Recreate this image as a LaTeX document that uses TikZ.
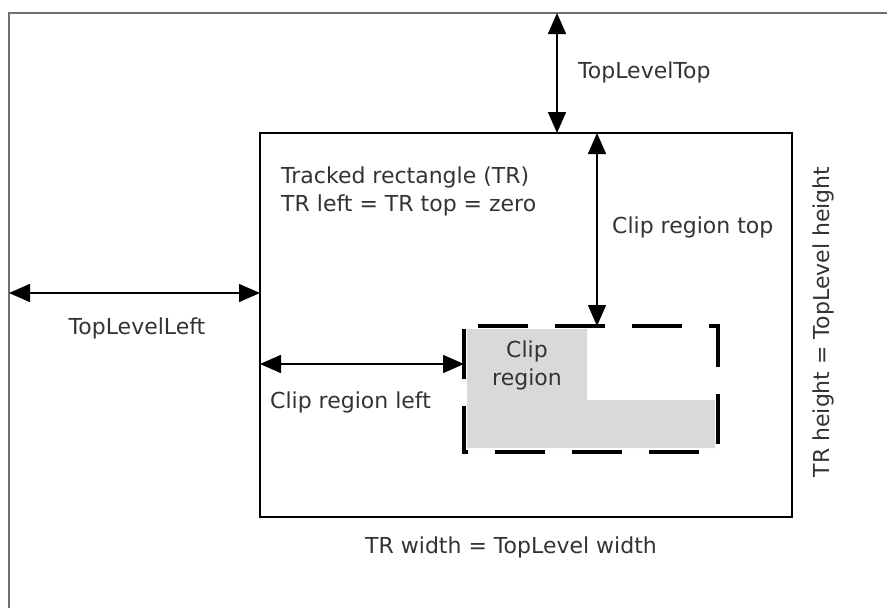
\documentclass[tikz,border=0pt]{standalone}
\usepackage{fontspec}
\setmainfont{DejaVu Sans}
\usetikzlibrary{arrows.meta}
\definecolor{txt}{HTML}{333333}
\definecolor{framegray}{HTML}{707070}
\definecolor{clipfill}{HTML}{D9D9D9}
\begin{document}
\begin{tikzpicture}[x=1pt,y=-1pt,
  dim/.style={{Triangle[length=21pt,width=18pt]}-{Triangle[length=21pt,width=18pt]}, line width=1.6pt},
  lbl/.style={text=txt, font=\fontsize{22}{28}\selectfont, inner sep=0pt},
  box/.style={rectangle, inner sep=0pt, outer sep=0pt},
]
\useasboundingbox (0,0) rectangle (887,608);
\clip (0,0) rectangle (887,608);
% outer top-level frame (extends past the picture)
\node[box, draw=framegray, line width=2pt, minimum width=1000pt, minimum height=700pt] (outer) at (509,363) {};
% tracked rectangle
\node[box, draw=black, line width=2.8pt, minimum width=532pt, minimum height=384pt] (tr) at (526,325) {};
% clip region fill (L-shape)
\fill[clipfill] (467,329) -- (587,329) -- (587,400) -- (715,400) -- (715,448) -- (467,448) -- cycle;
% clip region frame
\node[box, minimum width=254pt, minimum height=126pt] (clip) at (591,389) {};
\draw[black, line width=3.2pt, dash pattern=on 50pt off 27pt, dash phase=63pt]
  (clip.north west) -- (clip.north east) -- (clip.south east) -- (clip.south west) -- cycle;
\node[lbl, align=center] (cliplbl) at (527,365) {Clip\\region};
% helper coordinates
\coordinate (xtlt) at (557,0);
\coordinate (xcrt) at (597,0);
\coordinate (ytll) at (0,293);
\coordinate (ycrl) at (0,364);
% dimension arrows
\draw[dim] (outer.north -| xtlt) -- (tr.north -| xtlt);
\draw[dim] (tr.north -| xcrt) -- (clip.north -| xcrt);
\draw[dim] (outer.west |- ytll) -- (tr.west |- ytll);
\draw[dim] (tr.west |- ycrl) -- (clip.west |- ycrl);
% labels
\node[lbl, anchor=west] (ltlt) at (578,72) {TopLevelTop};
\node[lbl, anchor=west] (lcrt) at (612,227) {Clip region top};
\node[lbl] (ltll) at (137,328) {TopLevelLeft};
\node[lbl, anchor=west] (lcrl) at (270,402) {Clip region left};
\node[lbl, anchor=west] (ltr1) at (281,177) {Tracked rectangle (TR)};
\node[lbl, anchor=west] (ltr2) at (281,205) {TR left = TR top = zero};
\node[lbl, rotate=90] (lh) at (823,322) {TR height = TopLevel height};
\node[lbl] (lw) at (511,547) {TR width = TopLevel width};
\end{tikzpicture}
\end{document}
